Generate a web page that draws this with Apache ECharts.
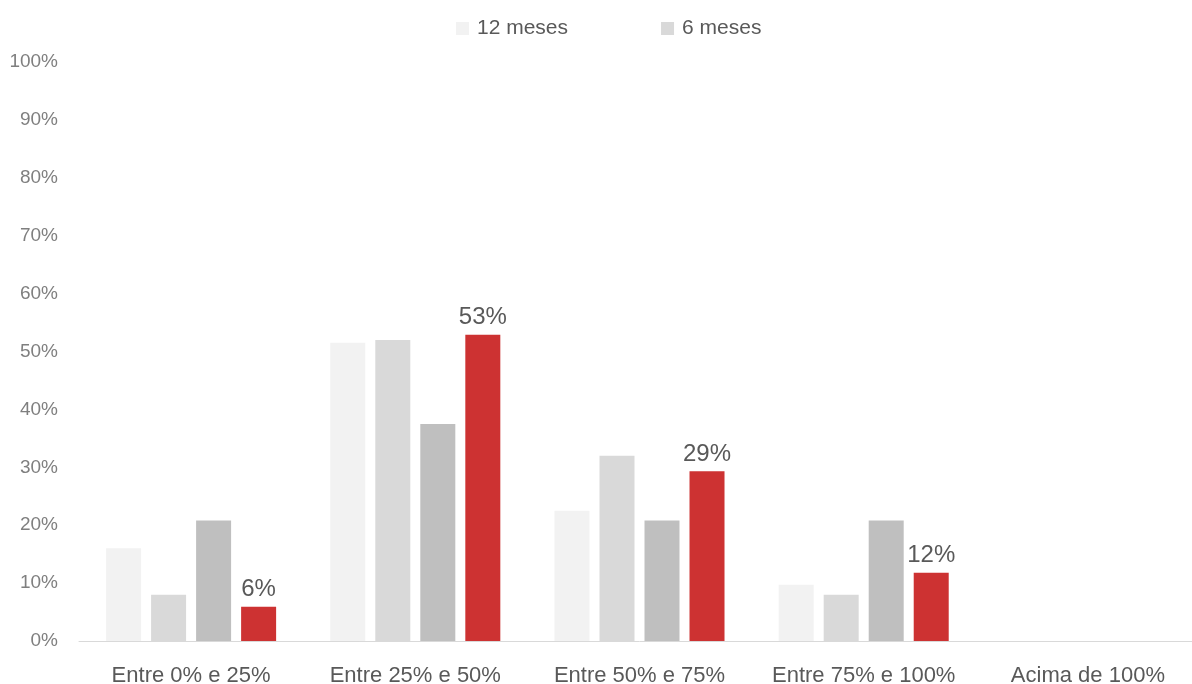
<!DOCTYPE html>
<html><head><meta charset="utf-8">
<script src="https://cdn.jsdelivr.net/npm/echarts@6/dist/echarts.min.js"></script>
<style>html,body{margin:0;padding:0;background:#fff;overflow:hidden;width:1192px;height:684px}#c{width:1210px;height:684px}</style>
</head><body><div id="c"></div>
<script>
const categories = ['Entre 0% e 25%', 'Entre 25% e 50%', 'Entre 50% e 75%', 'Entre 75% e 100%', 'Acima de 100%'];
const seriesNames = ['12 meses', '6 meses', 'Série 3', 'Série 4'];
const s1 = [16, 51.5, 22.5, 9.7, 0];
const s2 = [8, 52, 32, 8, 0];
const s3 = [20.8, 37.5, 20.8, 20.8, 0];
const s4 = [5.9, 52.9, 29.3, 11.8, 0];
const yTicks = [0, 100, 10];
const colors = ['#f2f2f2', '#d9d9d9', '#bfbfbf', '#cd3232'];

const font = 'Liberation Sans';
const chart = echarts.init(document.getElementById('c'));
const data = [s1, s2, s3, s4];
chart.setOption({
  animation: false,
  textStyle: { fontFamily: font },
  legend: {
    data: [seriesNames[0], seriesNames[1]],
    left: 451, top: 13,
    itemWidth: 13, itemHeight: 13, itemGap: 93,
    icon: 'rect',
    textStyle: { fontFamily: font, fontSize: 21, color: '#595959', padding: [0, 0, 0, 3] }
  },
  grid: { left: 79, top: 62, width: 1121, height: 579, outerBoundsMode: 'none', containLabel: false },
  xAxis: {
    type: 'category', data: categories,
    axisLine: { lineStyle: { color: '#d9d9d9', width: 1 } },
    axisTick: { show: false },
    axisLabel: { interval: 0, fontFamily: font, fontSize: 22, color: '#595959', margin: 24 }
  },
  yAxis: {
    type: 'value', min: yTicks[0], max: yTicks[1], interval: yTicks[2],
    axisLine: { show: false }, axisTick: { show: false },
    splitLine: { show: false },
    axisLabel: { formatter: '{value}%', fontFamily: font, fontSize: 19, color: '#7f7f7f', margin: 21 }
  },
  series: data.map((d, i) => ({
    name: seriesNames[i], type: 'bar', data: d,
    barWidth: 35, barGap: '28.6%',
    itemStyle: { color: colors[i] },
    label: i === 3 ? {
      show: true, position: 'top', distance: 5,
      fontFamily: font, fontSize: 24, color: '#595959',
      formatter: p => p.value > 0 ? Math.round(p.value) + '%' : ''
    } : { show: false }
  }))
});
</script></body></html>
